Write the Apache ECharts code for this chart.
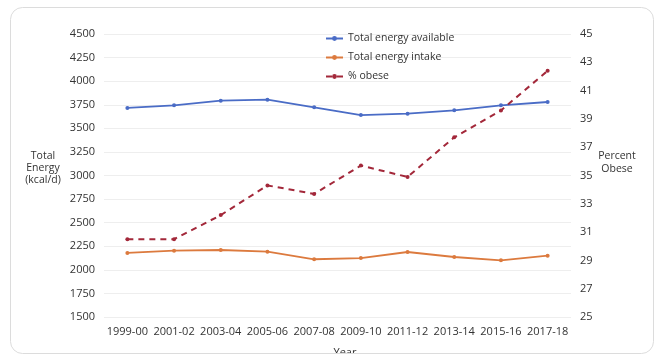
<!DOCTYPE html>
<html><head><meta charset="utf-8">
<script src="https://cdn.jsdelivr.net/npm/echarts@6/dist/echarts.min.js"></script>
<style>html,body{margin:0;padding:0;background:#fff}#c{width:665px;height:363px}</style>
</head><body><div id="c"></div>
<script>
var categories = ['1999-00','2001-02','2003-04','2005-06','2007-08','2009-10','2011-12','2013-14','2015-16','2017-18'];
var energyAvailable = [3716,3744,3793,3804,3723,3641,3655,3691,3744,3779];
var energyIntake = [2179,2203,2210,2192,2112,2125,2189,2136,2101,2150];
var pctObese = [30.5,30.5,32.2,34.3,33.7,35.7,34.9,37.7,39.6,42.4];
var font = '"Open Sans", "Noto Sans", sans-serif';
var chart = echarts.init(document.getElementById('c'));
chart.setOption({
  animation:false,
  textStyle:{fontFamily:font},
  grid:{left:104,right:94,top:34,bottom:46},
  legend:{orient:'vertical',left:320,top:28,itemGap:8,itemWidth:17,itemHeight:6,
    textStyle:{fontSize:10.5,color:'#333',fontFamily:font},
    data:['Total energy available','Total energy intake','% obese']},
  xAxis:{type:'category',data:categories,boundaryGap:true,
    axisLine:{show:false},axisTick:{show:false},
    axisLabel:{color:'#333',fontSize:11,margin:9,interval:0,fontFamily:font}},
  yAxis:[{type:'value',min:1500,max:4500,interval:250,
    axisLine:{show:false},axisTick:{show:false},
    axisLabel:{color:'#333',fontSize:11,margin:9,fontFamily:font,formatter:function(v){return String(v);}},
    splitLine:{lineStyle:{color:'#eeeeee'}}},
   {type:'value',min:25,max:45,interval:2,
    axisLine:{show:false},axisTick:{show:false},
    axisLabel:{color:'#333',fontSize:11,margin:9,fontFamily:font},
    splitLine:{show:false}}],
  series:[
   {name:'Total energy available',type:'line',data:energyAvailable,yAxisIndex:0,
    color:'#4a6cc6',symbol:'circle',symbolSize:4,lineStyle:{width:1.8,color:'#4a6cc6'}},
   {name:'Total energy intake',type:'line',data:energyIntake,yAxisIndex:0,
    color:'#dc7a3e',symbol:'circle',symbolSize:4,lineStyle:{width:1.8,color:'#dc7a3e'}},
   {name:'% obese',type:'line',data:pctObese,yAxisIndex:1,
    color:'#a3283a',symbol:'circle',symbolSize:4,lineStyle:{width:2,color:'#a3283a',type:[6,5]}}
  ],
  graphic:[
   {type:'text',x:43,y:150,z:10,style:{text:'Total\nEnergy\n(kcal/d)',textAlign:'center',fill:'#333',fontSize:10.5,lineHeight:12,fontFamily:font}},
   {type:'text',x:617,y:150,z:10,style:{text:'Percent\nObese',textAlign:'center',fill:'#333',fontSize:10.5,lineHeight:13,fontFamily:font}},
   {type:'text',x:345,y:347,z:10,style:{text:'Year',textAlign:'center',fill:'#333',fontSize:11,fontFamily:font}},
   {type:'rect',z:20,shape:{x:0,y:353.5,width:665,height:10},style:{fill:'#fff'}},
   {type:'rect',z:21,shape:{x:10.5,y:7.5,width:643,height:346,r:12},style:{fill:'none',stroke:'#dcdcdc',lineWidth:1}}
  ]
});
</script></body></html>
